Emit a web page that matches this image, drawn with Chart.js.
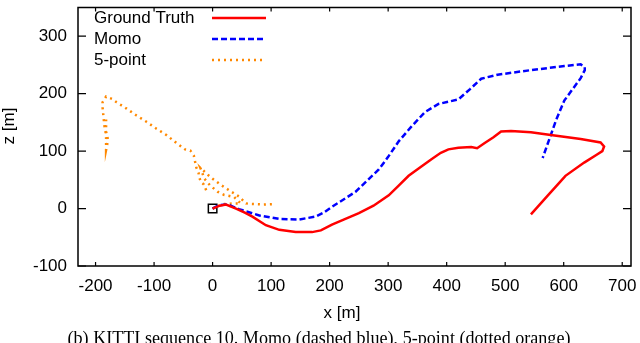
<!DOCTYPE html>
<html>
<head>
<meta charset="utf-8">
<script src="https://cdn.jsdelivr.net/npm/chart.js@4.4.0/dist/chart.umd.min.js"></script>
<style>
body{margin:0;background:#fff;}
#box{width:640px;height:343px;position:relative;}
</style>
</head>
<body>
<div id="box"><canvas id="myChart"></canvas></div>
<script>
// trajectories, x and z in metres
var gtX = [0,12,23,40,55,68,91,114,142,170,185,204,225,250,275,301,318,335,355,374,390,403,420,442,452,465,480,493,510,544,578,629,663,669,666,657,635,603,590,573,544];
var gtZ = [0,5,7,0,-7,-14,-29,-37,-41,-41,-38,-28,-19,-8,5,23,40,57,72,86,97,103,106,107,105,114,124,134,135,133,128,121,115,108,100,94,80,57,42,23,-10];

var momoX = [0,11,26,45,80,114,148,176,190,204,244,284,300,318,340,363,386,420,440,459,487,544,601,629,636,636,629,601,587,564];
var momoZ = [0,6,7,-1,-12,-18,-19,-14,-7,3,29,68,90,117,143,168,182,190,208,226,233,241,248,251,246,241,227,188,154,88];

// null = break in the 5-point track
var fiveX = [0,8,20,37,48,37,19,9,-4,-14,-21,-4,13,28,45,57,65,87,108,null,
  -11,-15,-20,-23,-24,-28,-30,-32,-38,-47,-55,-64,-79,-96,-113,-130,-147,-164,-172,-182,-188,-188,-187,-186,-185,-183,-182,-182,-182,-180,-179,-182,-182,-182];
var fiveZ = [0,4,8,9,9,20,24,29,40,52,71,55,42,32,21,9,8,7,8,null,
  32,42,46,55,62,72,82,92,101,103,109,116,128,139,151,162,174,185,191,195,185,176,166,155,145,134,124,113,102,112,121,134,145,155];

var xTicks = [-200,-100,0,100,200,300,400,500,600,700];
var yTicks = [-100,0,100,200,300];
var names = ["Ground Truth","Momo","5-point"];

function pts(xs, zs){
  var out = [];
  for (var i = 0; i < xs.length; i++) {
    out.push(xs[i] === null ? {x:null,y:null} : {x:xs[i], y:zs[i]});
  }
  return out;
}

var FONT = "'Liberation Sans', Arial, Helvetica, sans-serif";

var frame = {
  id: 'frame',
  afterDraw: function(chart){
    var ctx = chart.ctx, a = chart.chartArea;
    var xs = chart.scales.x, ys = chart.scales.y;
    ctx.save();
    ctx.strokeStyle = '#000';
    ctx.lineWidth = 1.5;
    ctx.strokeRect(a.left, a.top, a.right - a.left, a.bottom - a.top);
    ctx.lineWidth = 1.2;
    ctx.beginPath();
    xs.ticks.forEach(function(t){
      var px = xs.getPixelForValue(t.value);
      ctx.moveTo(px, a.bottom); ctx.lineTo(px, a.bottom - 4);
      ctx.moveTo(px, a.top); ctx.lineTo(px, a.top + 4);
    });
    ys.ticks.forEach(function(t){
      var py = ys.getPixelForValue(t.value);
      ctx.moveTo(a.left, py); ctx.lineTo(a.left + 8, py);
      ctx.moveTo(a.right, py); ctx.lineTo(a.right - 8, py);
    });
    ctx.stroke();

    // legend: text left, sample line right
    ctx.font = '17px ' + FONT;
    ctx.fillStyle = '#000';
    ctx.textBaseline = 'middle';
    ctx.textAlign = 'left';
    for (var i = 0; i < 3; i++) {
      var ds = chart.data.datasets[i];
      var y = 18 + i * 21;
      ctx.fillText(names[i], 94, y);
      ctx.save();
      ctx.strokeStyle = ds.borderColor;
      ctx.lineWidth = ds.borderWidth;
      ctx.setLineDash(ds.borderDash || []);
      ctx.beginPath();
      ctx.moveTo(212, y); ctx.lineTo(266, y);
      ctx.stroke();
      ctx.restore();
    }

    // axis titles
    ctx.textAlign = 'center';
    ctx.fillText('x [m]', 342, 313);
    ctx.save();
    ctx.translate(9, 126);
    ctx.rotate(-Math.PI / 2);
    ctx.fillText('z [m]', 0, 0);
    ctx.restore();

    // caption, serif, sized to the width it has in the figure
    var cap = '(b) KITTI sequence 10. Momo (dashed blue), 5-point (dotted orange)';
    ctx.font = '16px "Liberation Serif", "DejaVu Serif", serif';
    var w = ctx.measureText(cap).width;
    var size = 16 * 502 / w;
    ctx.font = size.toFixed(1) + 'px "Liberation Serif", "DejaVu Serif", serif';
    ctx.textBaseline = 'top';
    ctx.fillText(cap, 319, 330);
    ctx.restore();
  }
};

new Chart("myChart", {
  type: "line",
  data: {
    datasets: [{
      label: names[0],
      data: pts(gtX, gtZ),
      borderColor: "#ff0000",
      borderWidth: 2.5,
      pointRadius: 0,
      fill: false
    }, {
      label: names[1],
      data: pts(momoX, momoZ),
      borderColor: "#0000ff",
      borderWidth: 2.5,
      borderDash: [6, 3],
      pointRadius: 0,
      fill: false
    }, {
      label: names[2],
      data: pts(fiveX, fiveZ),
      borderColor: "rgb(255,136,0)",
      borderWidth: 2.5,
      borderDash: [2, 4],
      pointRadius: 0,
      fill: false,
      spanGaps: false
    }, {
      label: "start",
      data: [{x:0, y:0}],
      showLine: false,
      pointStyle: 'rect',
      pointRadius: 6,
      pointBorderColor: '#000',
      pointBackgroundColor: 'rgba(0,0,0,0)',
      pointBorderWidth: 1.5
    }]
  },
  options: {
    responsive: true,
    maintainAspectRatio: false,
    animation: false,
    layout: { padding: { top: 2, right: 9, left: 0, bottom: 0 } },
    plugins: { legend: { display: false }, tooltip: { enabled: false } },
    scales: {
      x: {
        type: 'linear',
        min: -230, max: 715,
        grid: { display: false, drawTicks: false },
        border: { display: false },
        afterBuildTicks: function(s){ s.ticks = xTicks.map(function(v){ return {value:v}; }); },
        afterFit: function(s){ s.height = 77; s.paddingLeft = 0; s.paddingRight = 0; },
        ticks: { color: '#000', padding: 10, maxRotation: 0, font: { size: 17, family: FONT } }
      },
      y: {
        type: 'linear',
        min: -100, max: 350,
        grid: { display: false, drawTicks: false },
        border: { display: false },
        afterBuildTicks: function(s){ s.ticks = yTicks.map(function(v){ return {value:v}; }); },
        afterFit: function(s){ s.width = 78; s.paddingTop = 0; s.paddingBottom = 0; },
        ticks: { color: '#000', padding: 11, font: { size: 17, family: FONT } }
      }
    }
  },
  plugins: [frame]
});
</script>
</body>
</html>
